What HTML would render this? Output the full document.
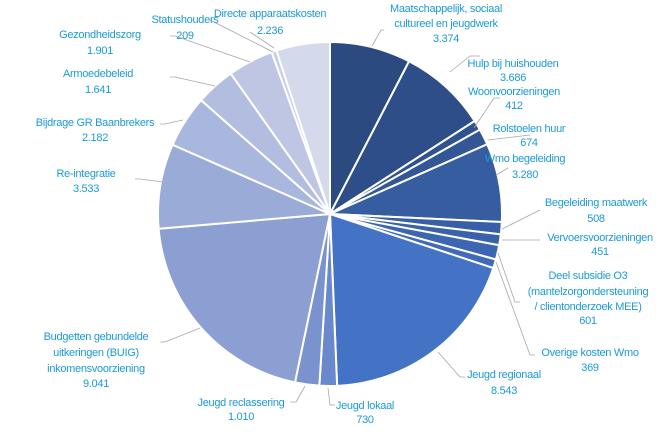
<!DOCTYPE html><html><head><meta charset="utf-8"><style>
body{margin:0;background:#fff}
text{font-family:"Liberation Sans",sans-serif;font-size:11px;letter-spacing:-0.3px;fill:#1b9ad6;text-anchor:middle}
</style></head><body>
<svg id="s" width="660" height="430" xmlns="http://www.w3.org/2000/svg">
<g id="p"></g>
<g stroke="#a6a6a6" fill="none" stroke-width="0.8">
<polyline points="372,46 381,30 384,30"/>
<polyline points="450,72 470,56 480,56"/>
<polyline points="474,128 494,98 500,98"/>
<polyline points="488,140 530,135"/>
<polyline points="496,175 508,168"/>
<polyline points="502,229 540,210"/>
<polyline points="502,240 540,240"/>
<polyline points="498,253 515,302 520,302"/>
<polyline points="496,262 530,355 535,355"/>
<polyline points="438,352 460,377 465,377"/>
<polyline points="328,388 330,405 335,405"/>
<polyline points="305,386 296,402 290,402"/>
<polyline points="200,328 165,342 160,342"/>
<polyline points="163,182 140,179 135,179"/>
<polyline points="183,120 165,124 160,124"/>
<polyline points="215,86 175,77 170,77"/>
<polyline points="250,62 175,36 170,36"/>
<polyline points="273,52 210,20"/>
<polyline points="274,48 250,32"/>
</g>
<text x="446" y="12">Maatschappelijk, sociaal</text><text x="446" y="27">cultureel en jeugdwerk</text><text x="446" y="42">3.374</text>
<text x="513" y="67">Hulp bij huishouden</text><text x="513" y="81">3.686</text>
<text x="514" y="95">Woonvoorzieningen</text><text x="514" y="109">412</text>
<text x="529" y="132">Rolstoelen huur</text><text x="529" y="146">674</text>
<text x="525" y="162">Wmo begeleiding</text><text x="525" y="178">3.280</text>
<text x="596" y="206">Begeleiding maatwerk</text><text x="596" y="222">508</text>
<text x="600" y="241">Vervoersvoorzieningen</text><text x="600" y="255">451</text>
<text x="588" y="279">Deel subsidie O3</text><text x="588" y="295">(mantelzorgondersteuning</text><text x="588" y="310">/ clientonderzoek MEE)</text><text x="588" y="324">601</text>
<text x="590" y="356">Overige kosten Wmo</text><text x="590" y="371">369</text>
<text x="504" y="378">Jeugd regionaal</text><text x="504" y="394">8.543</text>
<text x="365" y="409">Jeugd lokaal</text><text x="365" y="423">730</text>
<text x="241" y="406">Jeugd reclassering</text><text x="241" y="420">1.010</text>
<text x="96" y="340">Budgetten gebundelde</text><text x="96" y="356">uitkeringen (BUIG)</text><text x="96" y="372">inkomensvoorziening</text><text x="96" y="387">9.041</text>
<text x="86" y="177">Re-integratie</text><text x="86" y="192">3.533</text>
<text x="95" y="126">Bijdrage GR Baanbrekers</text><text x="95" y="141">2.182</text>
<text x="98" y="77">Armoedebeleid</text><text x="98" y="93">1.641</text>
<text x="100" y="38">Gezondheidszorg</text><text x="100" y="54">1.901</text>
<text x="185" y="23">Statushouders</text><text x="185" y="39">209</text>
<text x="270" y="17">Directe apparaatskosten</text><text x="270" y="34">2.236</text>
</svg>
<script>
var v=[3374,3686,412,674,3280,508,451,601,369,8543,730,1010,9041,3533,2182,1641,1901,209,2236];
var c=['#2a4a80','#2d4e88','#30528f','#325696','#375da1','#385fa5','#3a62aa','#3d66b2','#4069b8','#4472c4','#6a88cc','#7a93cf','#8b9fd3','#9aabd8','#a9b6dd','#b3bde0','#bfc6e4','#c8cee8','#d5d9ec'];
var t=v.reduce((a,b)=>a+b),cx=330,cy=214,r=172,a=0,g=document.getElementById('p'),h='';
v.forEach(function(x,i){var b=a+x/t*2*Math.PI;
var x1=cx+r*Math.sin(a),y1=cy-r*Math.cos(a),x2=cx+r*Math.sin(b),y2=cy-r*Math.cos(b);
h+='<path d="M'+cx+','+cy+'L'+x1+','+y1+'A'+r+','+r+' 0 '+((b-a)>Math.PI?1:0)+' 1 '+x2+','+y2+'Z" fill="'+c[i]+'" stroke="#fff" stroke-width="2"/>';a=b;});
g.innerHTML=h;
</script>
</body></html>
